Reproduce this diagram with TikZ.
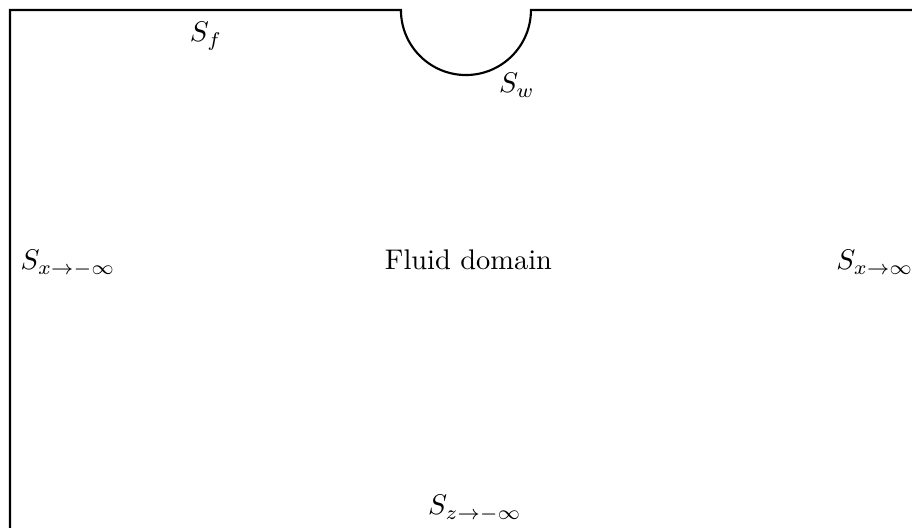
\documentclass[tikz,border=0pt]{standalone}
\usepackage{amsmath, amssymb}
\usepackage{tikz}
\usetikzlibrary{calc}

\begin{document}
\begin{tikzpicture}[line width=0.75pt]
    % --- 1. 定義邊界與半徑 ---
    \def\W{11.28}
    \def\H{6.53}
    \def\rW{0.804}
    \clip (0,0) rectangle (\W,-\H);

    % --- 2. 定義頂點與圓心 ---
    \coordinate (TL) at (0.124,-0.124);
    \coordinate (BL) at (0.124,-\H-1);
    \coordinate (TR) at (\W+1,-0.124);
    \coordinate (O) at (5.763,-0.124);
    \coordinate (A) at ($(O)+(-\rW,0)$);
    \coordinate (B) at ($(O)+(\rW,0)$);

    % --- 3. 繪製邊界 S_f, S_w ---
    \draw (BL) -- (TL) -- (A) arc[start angle=180, end angle=360, radius=\rW] -- (TR);

    % --- 4. 標籤 ---
    \node[anchor=base] (Sf) at (2.548,-0.519) {$S_f$};
    \node[anchor=base] (Sw) at (6.394,-1.150) {$S_w$};
    \node[anchor=base] (Sxm) at (0.841,-3.339) {$S_{x\to-\infty}$};
    \node[anchor=base] (fluid) at (5.794,-3.339) {Fluid domain};
    \node[anchor=base] (Sxp) at (10.822,-3.339) {$S_{x\to\infty}$};
    \node[anchor=base] (Sz) at (5.875,-6.369) {$S_{z\to-\infty}$};
\end{tikzpicture}
\end{document}
